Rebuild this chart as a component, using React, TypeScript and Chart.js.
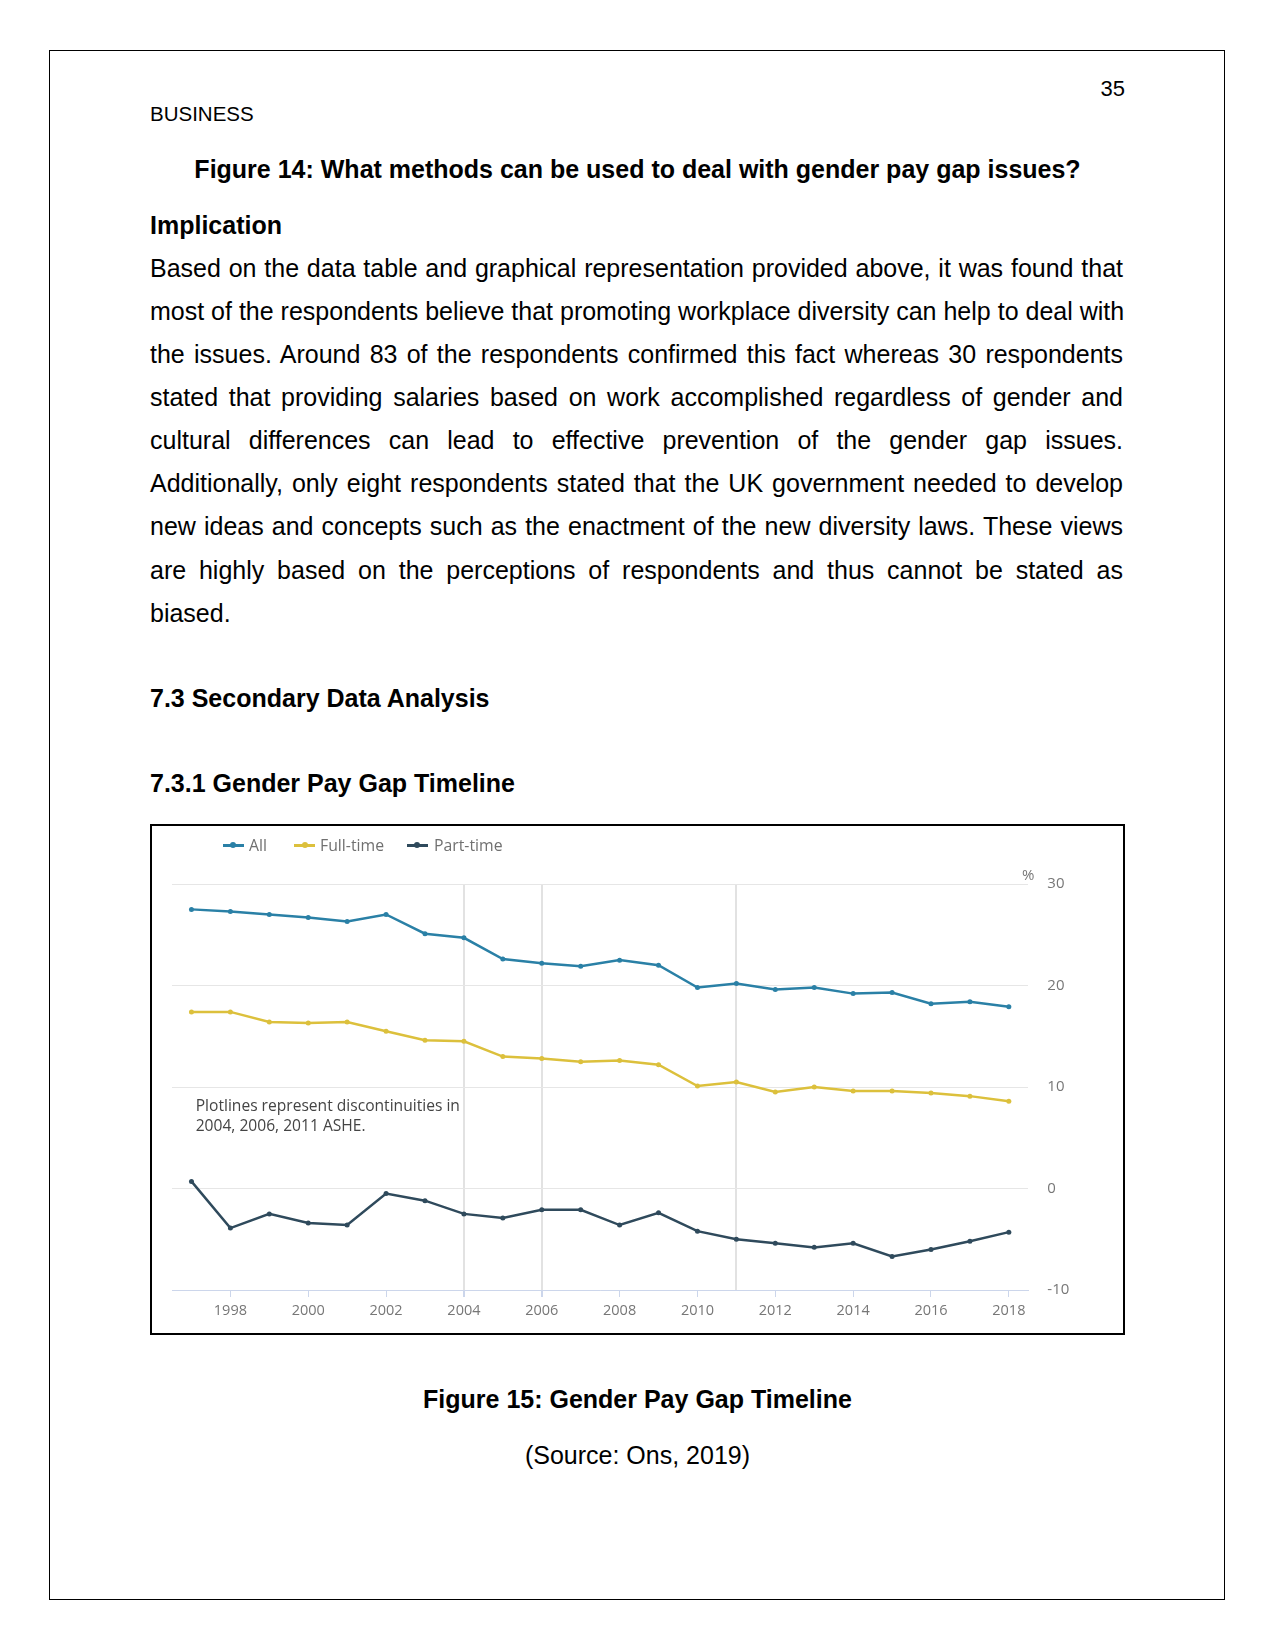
import React, { useEffect, useRef } from "react";
import { Chart, registerables } from "chart.js";

Chart.register(...registerables);

const years = ["1997","1998","1999","2000","2001","2002","2003","2004","2005","2006","2007","2008","2009","2010","2011","2012","2013","2014","2015","2016","2017","2018"];
const allValues = [27.5, 27.3, 27.0, 26.7, 26.3, 27.0, 25.1, 24.7, 22.6, 22.2, 21.9, 22.5, 22.0, 19.8, 20.2, 19.6, 19.8, 19.2, 19.3, 18.2, 18.4, 17.9];
const fullTimeValues = [17.4, 17.4, 16.4, 16.3, 16.4, 15.5, 14.6, 14.5, 13.0, 12.8, 12.5, 12.6, 12.2, 10.1, 10.5, 9.5, 10.0, 9.6, 9.6, 9.4, 9.1, 8.6];
const partTimeValues = [0.7, -3.9, -2.5, -3.4, -3.6, -0.5, -1.2, -2.5, -2.9, -2.1, -2.1, -3.6, -2.4, -4.2, -5.0, -5.4, -5.8, -5.4, -6.7, -6.0, -5.2, -4.3];
const seriesNames = ["All", "Full-time", "Part-time"];
const seriesColors = ["#2a80a6", "#dcc03c", "#2f4a5c"];
const plotlineYears = ["2004", "2006", "2011"];
const yTicks = [-10, 0, 10, 20, 30];

const paragraphLines = [
  "Based on the data table and graphical representation provided above, it was found that",
  "most of the respondents believe that promoting workplace diversity can help to deal with",
  "the issues. Around 83 of the respondents confirmed this fact whereas 30 respondents",
  "stated that providing salaries based on work accomplished regardless of gender and",
  "cultural differences can lead to effective prevention of the gender gap issues.",
  "Additionally, only eight respondents stated that the UK government needed to develop",
  "new ideas and concepts such as the enactment of the new diversity laws. These views",
  "are highly based on the perceptions of respondents and thus cannot be stated as",
  "biased.",
];

const serif = '"Liberation Sans", Arial, sans-serif';
const chartFont = '"Open Sans", sans-serif';

function ChartBox() {
  const ref = useRef<HTMLCanvasElement | null>(null);
  useEffect(() => {
    if (!ref.current) return;
    const values = [allValues, fullTimeValues, partTimeValues];
    const chart = new Chart(ref.current, {
      type: "line",
      data: {
        labels: years,
        datasets: seriesNames.map((name, i) => ({
          label: name,
          data: values[i],
          borderColor: seriesColors[i],
          backgroundColor: seriesColors[i],
          pointBackgroundColor: seriesColors[i],
          pointBorderColor: seriesColors[i],
          borderWidth: 2.5,
          pointRadius: 2.5,
          pointBorderWidth: 0,
          tension: 0,
          fill: false,
        })),
      },
      options: {
        animation: false,
        responsive: false,
        devicePixelRatio: 1,
        layout: { padding: { left: 20, top: 58, right: 0, bottom: 0 } },
        plugins: { legend: { display: false }, tooltip: { enabled: false }, title: { display: false } },
        scales: {
          x: {
            type: "category",
            offset: true,
            grid: {
              offset: false,
              drawOnChartArea: true,
              color: (ctx: any) => (plotlineYears.includes(years[ctx.index]) ? "#e2e2e2" : "rgba(0,0,0,0)"),
              lineWidth: (ctx: any) => (plotlineYears.includes(years[ctx.index]) ? 2 : 1),
              tickColor: (ctx: any) => (parseInt(years[ctx.index]) % 2 === 0 ? "#ccd6eb" : "rgba(0,0,0,0)"),
              tickLength: 7,
            },
            border: { display: true, color: "#ccd6eb", width: 1 },
            ticks: {
              autoSkip: false,
              maxRotation: 0,
              padding: 5,
              color: "#777777",
              font: { family: chartFont, size: 14.5 },
              callback: (_v: any, i: number) => (parseInt(years[i]) % 2 === 0 ? years[i] : ""),
            },
            afterFit: (scale: any) => { scale.height = 43; },
          },
          y: {
            position: "right",
            min: -10,
            max: 30,
            afterBuildTicks: (scale: any) => { scale.ticks = yTicks.map((v) => ({ value: v })); },
            grid: { color: "#e6e6e6", lineWidth: 1, drawTicks: false },
            border: { display: false },
            ticks: {
              padding: 19,
              color: "#777777",
              font: { family: chartFont, size: 15 },
            },
            afterFit: (scale: any) => { scale.width = 94.7; },
          },
        },
      },
    });
    return () => chart.destroy();
  }, []);
  return (
    <canvas ref={ref} width={971} height={507} style={{ position: "absolute", left: 152, top: 826, width: 971, height: 507 }} />
  );
}

function Legend() {
  const items = [
    { sym: 222.7, text: 249 },
    { sym: 294, text: 320 },
    { sym: 406.7, text: 434 },
  ];
  return (
    <>
      {items.map((it, i) => (
        <React.Fragment key={i}>
          <div style={{ position: "absolute", left: it.sym, top: 844, width: 21, height: 2.5, background: seriesColors[i] }} />
          <div style={{ position: "absolute", left: it.sym + 7.5, top: 842.2, width: 6, height: 6, borderRadius: 3, background: seriesColors[i] }} />
          <div style={{ position: "absolute", left: it.text, top: 834.5, lineHeight: "20px", fontSize: 15.8, fontFamily: chartFont, color: "#707070", whiteSpace: "nowrap" }}>
            {seriesNames[i]}
          </div>
        </React.Fragment>
      ))}
    </>
  );
}

export default function App() {
  const txt = (top: number, extra: React.CSSProperties, content: string, key?: any) => (
    <div key={key} style={{ position: "absolute", top, fontFamily: serif, color: "#000", whiteSpace: "nowrap", ...extra }}>{content}</div>
  );
  return (
    <div style={{ position: "absolute", left: 0, top: 0, width: 1275, height: 1650, background: "#fff", overflow: "hidden" }}>
      <div style={{ position: "absolute", left: 49, top: 50, width: 1176, height: 1550, border: "1px solid #000", boxSizing: "border-box" }} />
      {txt(89.4 - 15, { right: 150, fontSize: 22, lineHeight: "30px" }, "35")}
      {txt(113.6 - 15, { left: 150, fontSize: 20.5, lineHeight: "30px" }, "BUSINESS")}
      {txt(169.4 - 21.5, { left: 0, width: 1275, paddingLeft: 0, textAlign: "center", fontSize: 25, lineHeight: "43px", fontWeight: "bold" }, "Figure 14: What methods can be used to deal with gender pay gap issues?")}
      {txt(225 - 21.5, { left: 150, fontSize: 25, lineHeight: "43px", fontWeight: "bold" }, "Implication")}
      {paragraphLines.map((line, i) => (
        <div key={i} style={{
          position: "absolute", left: 150, width: 973, top: 268.3 + i * 43.1 - 21.5,
          fontFamily: serif, fontSize: 25, lineHeight: "43px", color: "#000",
          textAlign: "justify", textAlignLast: i < paragraphLines.length - 1 ? "justify" : "left", whiteSpace: "nowrap",
        } as React.CSSProperties}>{line}</div>
      ))}
      {txt(698.5 - 21.5, { left: 150, fontSize: 25, lineHeight: "43px", fontWeight: "bold" }, "7.3 Secondary Data Analysis")}
      {txt(783.7 - 21.5, { left: 150, fontSize: 25, lineHeight: "43px", fontWeight: "bold" }, "7.3.1 Gender Pay Gap Timeline")}
      <div style={{ position: "absolute", left: 150, top: 824, width: 975, height: 511, border: "2px solid #000", boxSizing: "border-box" }} />
      <ChartBox />
      <Legend />
      <div style={{ position: "absolute", left: 1022, top: 864, lineHeight: "20px", fontSize: 15, fontFamily: chartFont, color: "#777" }}>%</div>
      <div style={{ position: "absolute", left: 195.7, top: 1095, lineHeight: "20px", fontSize: 15.6, fontFamily: chartFont, color: "#444", whiteSpace: "nowrap" }}>
        <div>Plotlines represent discontinuities in</div>
        <div>2004, 2006, 2011 ASHE.</div>
      </div>
      {txt(1399 - 21.5, { left: 0, width: 1275, textAlign: "center", fontSize: 25, lineHeight: "43px", fontWeight: "bold" }, "Figure 15: Gender Pay Gap Timeline")}
      {txt(1455 - 21.5, { left: 0, width: 1275, textAlign: "center", fontSize: 25, lineHeight: "43px" }, "(Source: Ons, 2019)")}
    </div>
  );
}
